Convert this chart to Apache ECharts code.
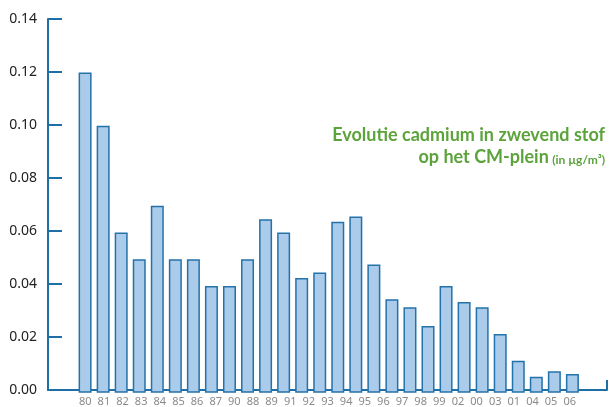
<!DOCTYPE html>
<html>
<head>
<meta charset="utf-8">
<script src="https://cdn.jsdelivr.net/npm/echarts@6/dist/echarts.min.js"></script>
<style>
html,body{margin:0;padding:0;background:#fff;}
#chart{width:610px;height:407px;}
</style>
</head>
<body>
<div id="chart"></div>
<script>
// Tick labels printed under the axis (as in the reference, 27 labels)
const yearLabels = ['80','81','82','83','84','85','86','87','90','88','89','91','92','93','94','95','96','97','98','99','02','00','03','01','04','05','06'];
// Bar values (28 bars, µg/m³)
const cadmium = [0.12,0.10,0.06,0.05,0.07,0.05,0.05,0.04,0.04,0.05,0.065,0.06,0.043,0.045,0.064,0.066,0.048,0.035,0.032,0.025,0.04,0.034,0.032,0.022,0.012,0.006,0.008,0.007];
// Y tick values
const yTicks = [0,0.02,0.04,0.06,0.08,0.10,0.12,0.14];

const titleLine1 = 'Evolutie cadmium in zwevend stof';
const titleLine2 = 'op het CM-plein';
const unitText = '(in µg/m³)';

const axisColor = '#1f6fa6';
const pad = ['', ''];
const barSlots = pad.concat(cadmium.map((_, i) => 'slot' + i), pad);
const labelSlots = pad.concat(yearLabels, pad);
const barData = [null, null].concat(cadmium, [null, null]);

const chart = echarts.init(document.getElementById('chart'));
chart.setOption({
  animation: false,
  grid: [
    {left: 49, right: 1.5, top: 19, bottom: 14.3},
    {left: 48, right: 1, top: 19, bottom: 14.3}
  ],
  xAxis: [
    {gridIndex: 0, type: 'category', data: barSlots, boundaryGap: false, show: false},
    {gridIndex: 1, type: 'category', data: labelSlots, boundaryGap: false,
     axisLine: {lineStyle: {color: axisColor, width: 2}},
     axisTick: {show: true, inside: true, length: 10, interval: (i) => i === labelSlots.length - 1,
                lineStyle: {color: axisColor, width: 2}},
     axisLabel: {interval: 0, color: '#8a8a8a', fontSize: 11, margin: 6, fontFamily: 'Noto Sans'},
     splitLine: {show: false}}
  ],
  yAxis: [
    {gridIndex: 0, type: 'value', min: yTicks[0], max: yTicks[yTicks.length - 1], interval: 0.02, show: false},
    {gridIndex: 1, type: 'value', min: yTicks[0], max: yTicks[yTicks.length - 1], interval: 0.02,
     axisLine: {show: true, lineStyle: {color: axisColor, width: 2}},
     axisTick: {show: true, inside: true, length: 14, lineStyle: {color: axisColor, width: 2}},
     axisLabel: {formatter: (v) => v.toFixed(2), color: '#222', fontSize: 14, margin: 11,
                 fontFamily: 'Noto Sans', padding: [10, 0, 0, 0]},
     splitLine: {show: false}}
  ],
  series: [{
    type: 'bar',
    xAxisIndex: 0,
    yAxisIndex: 0,
    data: barData,
    barWidth: 13,
    itemStyle: {color: '#abcbea', borderColor: '#2472aa', borderWidth: 1.5}
  }],
  graphic: [{
    type: 'text',
    x: 605,
    y: 122,
    style: {
      text: '{a|' + titleLine1 + '}\n{a|' + titleLine2 + '} {b|' + unitText + '}',
      align: 'right',
      rich: {
        a: {fontFamily: 'Lato', fontWeight: 'bold', fontSize: 18, fill: '#5ca33c', lineHeight: 22, verticalAlign: 'bottom'},
        b: {fontFamily: 'Lato', fontWeight: 'bold', fontSize: 12, fill: '#5ca33c', lineHeight: 22, verticalAlign: 'bottom'}
      }
    }
  }]
});
</script>
</body>
</html>
